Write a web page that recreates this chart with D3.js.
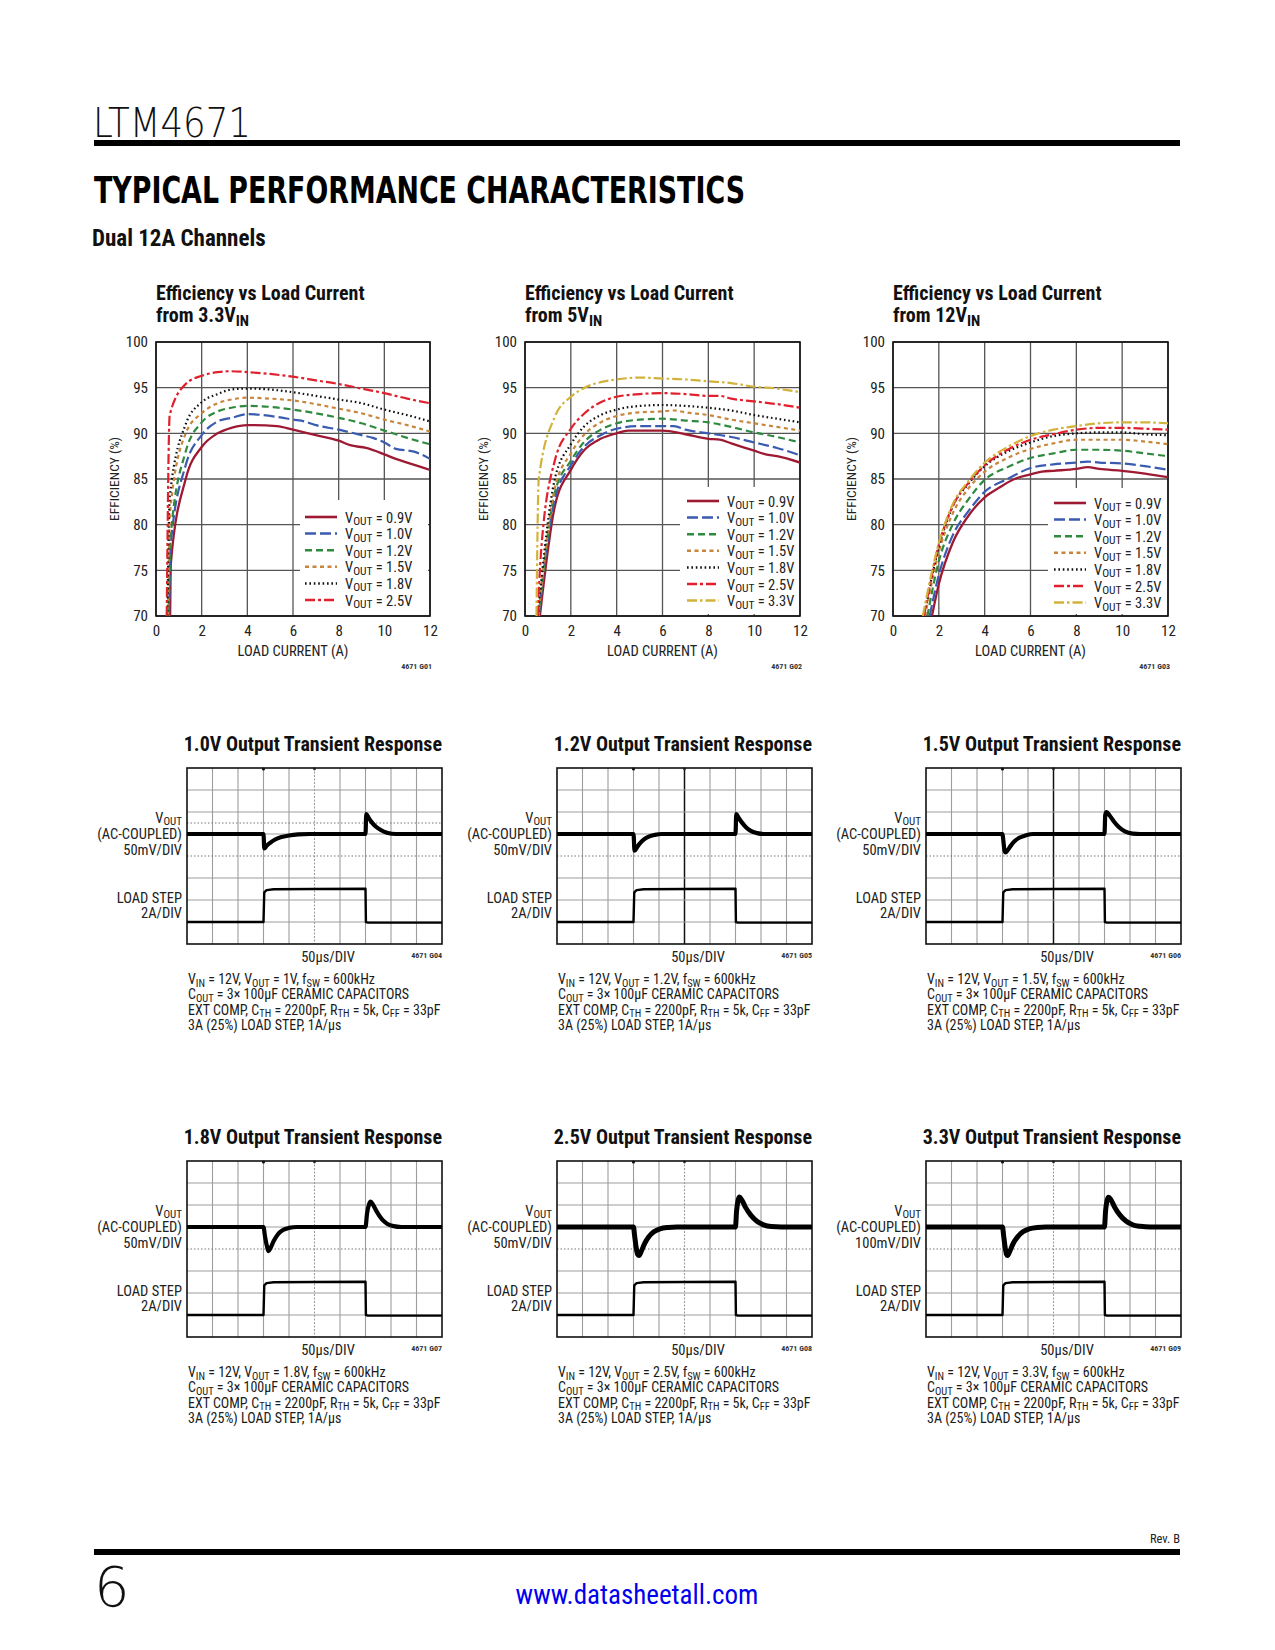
<!DOCTYPE html>
<html><head><meta charset="utf-8">
<script src="https://cdn.jsdelivr.net/npm/d3@7/dist/d3.min.js"></script>
<style>
html,body{margin:0;padding:0;background:#fff;}
svg{display:block;}
</style></head>
<body>
<svg id="page" width="1275" height="1650"></svg>
<script>
// ---------------- DATA ----------------
const loadCurrentTicks = [0, 2, 4, 6, 8, 10, 12];
const efficiencyTicks = [70, 75, 80, 85, 90, 95, 100];
const voutNames = ["0.9V", "1.0V", "1.2V", "1.5V", "1.8V", "2.5V", "3.3V"];

// Efficiency vs load current from 3.3VIN  [A, %]
const eff33_09 = [[0.62,70],[0.65,75.8],[1.3,85],[2,88.5],[2.7,90],[3.3,90.6],[4,90.9],[5.3,90.8],[6,90.4],[7,89.8],[8,89.2],[8.5,88.7],[9.2,88.4],[10,87.7],[10.5,87.2],[11,86.8],[12,86.0]];
const eff33_10 = [[0.57,70],[0.65,78],[1.3,86.5],[2,89.8],[2.7,91.3],[3.3,91.7],[4,92.1],[5.3,91.8],[6,91.5],[6.5,91.3],[7,90.9],[8,90.4],[9,89.8],[9.5,89.5],[10,89.0],[10.5,88.3],[11.3,88.0],[12,87.2]];
const eff33_12 = [[0.55,70],[0.65,79],[1.3,88],[2,91.2],[2.7,92.4],[3.3,92.8],[4,93.0],[5,92.9],[6,92.6],[7,92.2],[8,91.7],[9,91.1],[10,90.3],[11,89.5],[12,88.8]];
const eff33_15 = [[0.52,70],[0.62,81.5],[1.3,90],[2,92.2],[2.7,93.3],[3.3,93.7],[4,93.9],[5,93.8],[6,93.6],[7,93.2],[8,92.7],[9,92.2],[10,91.5],[11,90.9],[12,90.2]];
const eff33_18 = [[0.5,70],[0.6,83],[1.3,91],[2,93.4],[2.7,94.3],[3.3,94.8],[4,94.9],[5,94.8],[6,94.5],[7,94.1],[8,93.7],[9,93.3],[10,92.6],[11,92.0],[12,91.3]];
const eff33_25 = [[0.47,70],[0.6,92],[1.3,95.4],[2,96.3],[2.7,96.7],[3.3,96.8],[4,96.7],[5,96.5],[6,96.2],[7,95.8],[8,95.4],[9,94.9],[10,94.4],[11,93.8],[12,93.3]];

// Efficiency vs load current from 5VIN
const eff5_09 = [[0.65,70],[1.3,82],[2,86],[2.6,88.2],[3.3,89.4],[4,90.0],[4.5,90.3],[6,90.3],[7,89.9],[8,89.4],[8.5,89.3],[9,88.9],[10,88.1],[10.5,87.7],[11,87.5],[12,86.8]];
const eff5_10 = [[0.6,70],[1.3,82.8],[2,86.5],[2.6,88.6],[3.3,89.8],[4,90.5],[5,90.8],[6,90.8],[6.5,90.8],[7,90.4],[8,90.0],[9,89.6],[10,89.0],[11,88.4],[12,87.6]];
const eff5_12 = [[0.6,70],[1.3,83.5],[2,87],[2.6,89.1],[3.3,90.4],[4,91.1],[5,91.5],[6,91.6],[7,91.4],[8,91.2],[9,90.7],[10,90.1],[11,89.6],[12,89.0]];
const eff5_15 = [[0.58,70],[1.3,84],[2,87.8],[2.6,89.9],[3.3,91.2],[4,91.9],[5,92.3],[6,92.4],[6.5,92.5],[7,92.3],[8,92.0],[9,91.5],[10,91.1],[11,90.7],[12,90.3]];
const eff5_18 = [[0.55,70],[1.3,85],[2,88.8],[2.6,90.8],[3.3,92.0],[4,92.6],[5,93.0],[6,93.1],[7,93.0],[8,92.8],[9,92.5],[10,92.0],[11,91.6],[12,91.2]];
const eff5_25 = [[0.55,70],[0.7,77],[1.3,87],[2,90.5],[2.6,92.2],[3.3,93.4],[4,94.0],[5,94.3],[6,94.4],[7,94.3],[8,94.1],[8.5,94.1],[9,93.8],[10,93.5],[11,93.2],[12,92.8]];
const eff5_33 = [[0.5,70],[0.6,85],[1.3,91.8],[2,94.0],[2.6,95.0],[3.3,95.6],[4,95.9],[5,96.1],[6,96.0],[7,95.9],[8,95.7],[9,95.5],[10,95.1],[11,94.9],[12,94.5]];

// Efficiency vs load current from 12VIN
const eff12_09 = [[1.7,70],[2,73.5],[2.6,78],[3.3,81],[4,83],[4.6,84],[5.3,85],[6,85.5],[6.5,85.8],[7,85.9],[8,86.1],[8.5,86.3],[9,86.1],[10,85.9],[11,85.6],[12,85.2]];
const eff12_10 = [[1.6,70],[2,74.5],[2.6,78.8],[3.3,81.5],[4,83.6],[5,85.0],[6,86.2],[7,86.6],[8,86.8],[8.5,86.9],[9,86.8],[10,86.7],[11,86.4],[12,86.0]];
const eff12_12 = [[1.5,70],[2,76],[2.6,80],[3.3,82.8],[4,84.9],[5,86.3],[6,87.3],[7,87.8],[8,88.2],[9,88.2],[10,88.1],[11,87.8],[12,87.5]];
const eff12_15 = [[1.4,70],[2,77],[2.6,81.2],[3.3,84],[4,85.8],[5,87.3],[6,88.3],[7,88.9],[8,89.3],[9,89.3],[10,89.3],[11,89.1],[12,88.8]];
const eff12_18 = [[1.35,70],[2,77.5],[2.6,82],[3.3,84.5],[4,86.4],[5,88.0],[6,89.0],[7,89.7],[8,90.0],[9,90.1],[10,90.1],[11,89.9],[12,89.8]];
const eff12_25 = [[1.35,70],[2,77.8],[2.6,82],[3.3,84.6],[4,86.5],[5,88.2],[6,89.3],[7,89.9],[8,90.4],[9,90.6],[10,90.6],[11,90.5],[12,90.4]];
const eff12_33 = [[1.3,70],[2,78],[2.6,82.2],[3.3,84.8],[4,86.8],[5,88.5],[6,89.7],[7,90.4],[8,90.8],[9,91.1],[10,91.2],[11,91.2],[12,91.1]];

// Transient responses: time [us], VOUT deviation [mV]
const timeTicksUs = [0,50,100,150,200,250,300,350,400,450,500];
const loadStepA = [[0,0],[150,0],[151.5,2.7],[156,2.9],[170,2.98],[250,3.0],[350,3.02],[350.8,0],[355,-0.06],[500,-0.06]];
const vout1v0 = [[0,0],[150,0],[151.5,-33],[156,-27],[163,-20],[172,-13],[185,-7],[200,-3.5],[218,-1],[240,0],[350,0],[351.5,45],[356,37],[362,27],[370,17],[380,9],[392,3],[410,0],[500,0]];
const vout1v2 = [[0,0],[150,0],[152,-38],[157,-30],[163,-21],[170,-13],[180,-6],[192,-2],[205,0],[350,0],[351.5,45],[356,37],[362,27],[370,16],[380,7],[392,2],[405,0],[500,0]];
const vout1v5 = [[0,0],[150,0],[151,-8],[154,-38],[156,-42],[160,-37],[166,-27],[174,-16],[184,-8],[196,-3],[210,0],[350,0],[351.5,44],[354,50],[360,42],[368,29],[378,16],[390,6],[405,1],[420,0],[500,0]];
const vout1v8 = [[0,0],[150,0],[153,-22],[157,-45],[160,-55],[164,-47],[170,-32],[178,-17],[188,-7],[200,-2],[215,0],[350,0],[353,30],[357,52],[360,58],[365,50],[372,35],[382,18],[393,7],[405,2],[420,0],[500,0]];
const vout2v5 = [[0,0],[150,0],[152,-18],[155,-45],[158,-62],[161,-65],[165,-56],[172,-37],[180,-22],[190,-11],[202,-4],[218,-1],[235,0],[350,0],[352,35],[355,60],[358,68],[363,60],[370,44],[380,27],[392,13],[405,5],[420,1],[440,0],[500,0]];
const vout3v3 = [[0,0],[150,0],[152,-35],[155,-90],[158,-125],[160,-130],[164,-112],[171,-75],[180,-44],[190,-22],[202,-9],[218,-2],[235,0],[350,0],[352,70],[355,120],[358,135],[363,122],[370,90],[380,55],[392,27],[405,10],[420,3],[440,0],[500,0]];

// ---------------- STYLE ----------------
const NARROW = "'Liberation Sans Narrow','Arial Narrow','Roboto Condensed','DejaVu Sans Condensed',sans-serif";
const seriesStyle = {
  "0.9V": {color:"#9e1a33", dash:null, w:2.3},
  "1.0V": {color:"#3a5bb0", dash:"11,4", w:2.2},
  "1.2V": {color:"#2f8a40", dash:"7,4", w:2.2},
  "1.5V": {color:"#c7853d", dash:"4,3.5", w:2.2},
  "1.8V": {color:"#111111", dash:"1.6,2.8", w:2.2},
  "2.5V": {color:"#e0202c", dash:"10,3,3,3", w:2.2},
  "3.3V": {color:"#d2b23a", dash:"10,3,2.5,3", w:2.2}
};

const svg = d3.select("#page");
svg.append("rect").attr("width",1275).attr("height",1650).attr("fill","#fff");

// rich text with {sub} subscripts
function rich(sel, str, size, subSize, shift) {
  const parts = str.split(/(\{[^}]*\})/).filter(s => s.length);
  let inSub = false;
  parts.forEach(p => {
    if (p.startsWith("{")) {
      sel.append("tspan").attr("font-size", subSize).attr("dy", shift).text(p.slice(1,-1));
      inSub = true;
    } else {
      const t = sel.append("tspan").attr("font-size", size).text(p);
      if (inSub) { t.attr("dy", -shift); inSub = false; }
    }
  });
  return sel;
}

// ---------------- HEADER ----------------
svg.append("text").attr("x",93).attr("y",137)
  .attr("font-family","'DejaVu Sans',sans-serif").attr("font-weight",200)
  .attr("font-size",41).attr("textLength",158).attr("lengthAdjust","spacingAndGlyphs")
  .attr("fill","#111").text("LTM4671");
svg.append("rect").attr("x",94).attr("y",140).attr("width",1086).attr("height",6).attr("fill","#000");
svg.append("text").attr("x",94).attr("y",203)
  .attr("font-family","'DejaVu Sans Condensed','DejaVu Sans',sans-serif").attr("font-weight",900)
  .attr("font-size",38).attr("textLength",651).attr("lengthAdjust","spacingAndGlyphs")
  .attr("fill","#000").text("TYPICAL PERFORMANCE CHARACTERISTICS");
svg.append("text").attr("x",92).attr("y",246)
  .attr("font-family",NARROW).attr("font-weight",700).attr("font-size",23)
  .attr("fill","#111").text("Dual 12A Channels");

// ---------------- EFFICIENCY CHARTS ----------------
const effCharts = [
  {left:156, right:430, vin:"3.3V", fig:"4671 G01", legendBox:[300,500,128,115], legendY:517, legendX:305,
   series:[["0.9V",eff33_09],["1.0V",eff33_10],["1.2V",eff33_12],["1.5V",eff33_15],["1.8V",eff33_18],["2.5V",eff33_25]]},
  {left:525, right:800, vin:"5V", fig:"4671 G02", legendBox:[680,487,119,127], legendY:501, legendX:687,
   series:[["0.9V",eff5_09],["1.0V",eff5_10],["1.2V",eff5_12],["1.5V",eff5_15],["1.8V",eff5_18],["2.5V",eff5_25],["3.3V",eff5_33]]},
  {left:893, right:1168, vin:"12V", fig:"4671 G03", legendBox:[1048,488,119,126], legendY:503, legendX:1054,
   series:[["0.9V",eff12_09],["1.0V",eff12_10],["1.2V",eff12_12],["1.5V",eff12_15],["1.8V",eff12_18],["2.5V",eff12_25],["3.3V",eff12_33]]}
];
const effTop = 342, effBottom = 616;

effCharts.forEach((c, ci) => {
  const g = svg.append("g");
  const x = d3.scaleLinear().domain([0,12]).range([c.left, c.right]);
  const y = d3.scaleLinear().domain([70,100]).range([effBottom, effTop]);
  // title
  g.append("text").attr("x",c.left).attr("y",300).attr("font-family",NARROW).attr("font-weight",700)
    .attr("font-size",20).attr("fill","#111").text("Efficiency vs Load Current");
  rich(g.append("text").attr("x",c.left).attr("y",322).attr("font-family",NARROW).attr("font-weight",700).attr("fill","#111"),
    "from " + c.vin + "{IN}", 20, 15, 3.5);
  // grid
  g.append("g").selectAll("line.v").data(loadCurrentTicks).join("line")
    .attr("x1",d=>x(d)).attr("x2",d=>x(d)).attr("y1",effTop).attr("y2",effBottom)
    .attr("stroke","#555").attr("stroke-width",1.3);
  g.append("g").selectAll("line.h").data(efficiencyTicks).join("line")
    .attr("x1",c.left).attr("x2",c.right).attr("y1",d=>y(d)).attr("y2",d=>y(d))
    .attr("stroke","#555").attr("stroke-width",1.3);
  // legend background hides grid
  const lb = c.legendBox;
  g.append("rect").attr("x",lb[0]).attr("y",lb[1]).attr("width",lb[2]).attr("height",lb[3]).attr("fill","#fff");
  // frame
  g.append("rect").attr("x",c.left).attr("y",effTop).attr("width",c.right-c.left).attr("height",effBottom-effTop)
    .attr("fill","none").attr("stroke","#111").attr("stroke-width",1.6);
  // axes labels
  const ax = g.append("g").attr("transform",`translate(0,${effBottom})`)
    .call(d3.axisBottom(x).tickValues(loadCurrentTicks).tickSize(0).tickPadding(9).tickFormat(d3.format("d")));
  ax.select(".domain").remove();
  ax.selectAll("text").attr("font-family",NARROW).attr("font-size",15).attr("fill","#222");
  const ay = g.append("g").attr("transform",`translate(${c.left},0)`)
    .call(d3.axisLeft(y).tickValues(efficiencyTicks).tickSize(0).tickPadding(8).tickFormat(d3.format("d")));
  ay.select(".domain").remove();
  ay.selectAll("text").attr("font-family",NARROW).attr("font-size",15).attr("fill","#222");
  g.append("text").attr("x",(c.left+c.right)/2).attr("y",656).attr("text-anchor","middle")
    .attr("font-family",NARROW).attr("font-size",14.5).attr("fill","#222").text("LOAD CURRENT (A)");
  g.append("text").attr("transform",`translate(${c.left-37},${(effTop+effBottom)/2}) rotate(-90)`)
    .attr("text-anchor","middle").attr("font-family",NARROW).attr("font-size",13.5).attr("fill","#222").text("EFFICIENCY (%)");
  g.append("text").attr("x",c.right+2).attr("y",669).attr("text-anchor","end")
    .attr("font-family",NARROW).attr("font-weight",700).attr("font-size",8).attr("fill","#333").text(c.fig);
  // curves
  const clipId = "clipEff"+ci;
  g.append("clipPath").attr("id",clipId).append("rect").attr("x",c.left).attr("y",effTop).attr("width",c.right-c.left).attr("height",effBottom-effTop);
  const line = d3.line().x(d=>x(d[0])).y(d=>y(d[1])).curve(d3.curveMonotoneX);
  const cg = g.append("g").attr("clip-path",`url(#${clipId})`);
  c.series.forEach(([name, data]) => {
    const s = seriesStyle[name];
    cg.append("path").datum(data).attr("d",line).attr("fill","none")
      .attr("stroke",s.color).attr("stroke-width",s.w).attr("stroke-dasharray",s.dash);
  });
  // legend
  c.series.forEach(([name], i) => {
    const s = seriesStyle[name];
    const yy = c.legendY + i*16.6;
    g.append("line").attr("x1",c.legendX).attr("x2",c.legendX+32).attr("y1",yy).attr("y2",yy)
      .attr("stroke",s.color).attr("stroke-width",s.w+0.3).attr("stroke-dasharray",s.dash);
    rich(g.append("text").attr("x",c.legendX+40).attr("y",yy+5.5).attr("font-family",NARROW).attr("fill","#222"),
      "V{OUT} = " + name, 14.5, 11.5, 2.5);
  });
});

// ---------------- TRANSIENT CHARTS ----------------
const scopeCharts = [
  {left:187, top:768, vout:"1.0V", voutNote:"1V", scale:"50mV/DIV", mvPerDiv:50, trace:vout1v0, fig:"4671 G04", darkCenter:false, cursor:2.5},
  {left:557, top:768, vout:"1.2V", voutNote:"1.2V", scale:"50mV/DIV", mvPerDiv:50, trace:vout1v2, fig:"4671 G05", darkCenter:true, cursor:null},
  {left:926, top:768, vout:"1.5V", voutNote:"1.5V", scale:"50mV/DIV", mvPerDiv:50, trace:vout1v5, fig:"4671 G06", darkCenter:true, cursor:null},
  {left:187, top:1161, vout:"1.8V", voutNote:"1.8V", scale:"50mV/DIV", mvPerDiv:50, trace:vout1v8, fig:"4671 G07", darkCenter:false, cursor:null},
  {left:557, top:1161, vout:"2.5V", voutNote:"2.5V", scale:"50mV/DIV", mvPerDiv:50, trace:vout2v5, fig:"4671 G08", darkCenter:false, cursor:null},
  {left:926, top:1161, vout:"3.3V", voutNote:"3.3V", scale:"100mV/DIV", mvPerDiv:100, trace:vout3v3, fig:"4671 G09", darkCenter:false, cursor:null}
];
const scopeW = 255, scopeH = 176;
const voutBaselineDiv = 3, loadBaselineDiv = 7, ampsPerDiv = 2;

scopeCharts.forEach((c, ci) => {
  const g = svg.append("g");
  const x = d3.scaleLinear().domain([0,500]).range([c.left, c.left+scopeW]);
  const div = d3.scaleLinear().domain([0,8]).range([c.top, c.top+scopeH]);
  const yV = d3.scaleLinear().domain([0, c.mvPerDiv]).range([div(voutBaselineDiv), div(voutBaselineDiv-1)]);
  const yI = d3.scaleLinear().domain([0, ampsPerDiv]).range([div(loadBaselineDiv), div(loadBaselineDiv-1)]);
  const right = c.left+scopeW, bottom = c.top+scopeH;
  // title
  g.append("text").attr("x",right).attr("y",c.top-17).attr("text-anchor","end")
    .attr("font-family",NARROW).attr("font-weight",700).attr("font-size",20).attr("fill","#111")
    .text(c.vout + " Output Transient Response");
  // grid
  g.append("g").selectAll("line").data(timeTicksUs.slice(1,-1)).join("line")
    .attr("x1",d=>x(d)).attr("x2",d=>x(d)).attr("y1",c.top).attr("y2",bottom)
    .attr("stroke", d => (d===250 && c.darkCenter) ? "#111" : "#9d9d9d")
    .attr("stroke-width", d => (d===250 && c.darkCenter) ? 1.5 : 1.1)
    .attr("stroke-dasharray", d => (d===250 && !c.darkCenter) ? "2,1.5" : null);
  g.append("g").selectAll("line").data(d3.range(1,8)).join("line")
    .attr("x1",c.left).attr("x2",right).attr("y1",d=>div(d)).attr("y2",d=>div(d))
    .attr("stroke", d => d===4 ? "#777" : "#9d9d9d").attr("stroke-width",1.1)
    .attr("stroke-dasharray", d => d===4 ? "1.5,2" : null);
  if (c.cursor !== null) {
    g.append("line").attr("x1",c.left).attr("x2",right).attr("y1",div(c.cursor)).attr("y2",div(c.cursor))
      .attr("stroke","#777").attr("stroke-width",1).attr("stroke-dasharray","1.5,2");
  }
  // trigger markers
  g.append("circle").attr("cx",x(150)).attr("cy",c.top+1).attr("r",1.6).attr("fill","#111");
  g.append("circle").attr("cx",x(250)).attr("cy",c.top+1).attr("r",1.4).attr("fill","#333");
  // frame
  g.append("rect").attr("x",c.left).attr("y",c.top).attr("width",scopeW).attr("height",scopeH)
    .attr("fill","none").attr("stroke","#111").attr("stroke-width",1.6);
  // traces
  const clipId = "clipScope"+ci;
  g.append("clipPath").attr("id",clipId).append("rect").attr("x",c.left).attr("y",c.top).attr("width",scopeW).attr("height",scopeH);
  const tg = g.append("g").attr("clip-path",`url(#${clipId})`);
  tg.append("path").datum(loadStepA).attr("d", d3.line().x(d=>x(d[0])).y(d=>yI(d[1])))
    .attr("fill","none").attr("stroke","#000").attr("stroke-width",2.4).attr("stroke-linejoin","round");
  tg.append("path").datum(c.trace).attr("d", d3.line().x(d=>x(d[0])).y(d=>yV(d[1])).curve(d3.curveMonotoneX))
    .attr("fill","none").attr("stroke","#000").attr("stroke-width", c.mvPerDiv===100 || c.vout==="2.5V" ? 5 : 4.2)
    .attr("stroke-linejoin","round");
  // side labels
  const lx = c.left-5;
  rich(g.append("text").attr("x",lx).attr("y",c.top+54.5).attr("text-anchor","end").attr("font-family",NARROW).attr("fill","#222"),
    "V{OUT}", 14.5, 11, 2.5);
  const side = [["(AC-COUPLED)",71],[c.scale,87],["LOAD STEP",135],["2A/DIV",150]];
  side.forEach(([t,dy]) => g.append("text").attr("x",lx).attr("y",c.top+dy).attr("text-anchor","end")
    .attr("font-family",NARROW).attr("font-size",14.5).attr("fill","#222").text(t));
  // time scale
  g.append("text").attr("x",c.left+141).attr("y",c.top+194).attr("text-anchor","middle")
    .attr("font-family",NARROW).attr("font-size",14.5).attr("fill","#222").text("50\u00b5s/DIV");
  g.append("text").attr("x",right).attr("y",c.top+190).attr("text-anchor","end")
    .attr("font-family",NARROW).attr("font-weight",700).attr("font-size",8).attr("fill","#333").text(c.fig);
  // notes
  const notes = [
    "V{IN} = 12V, V{OUT} = " + c.voutNote + ", f{SW} = 600kHz",
    "C{OUT} = 3\u00d7 100\u00b5F CERAMIC CAPACITORS",
    "EXT COMP, C{TH} = 2200pF, R{TH} = 5k, C{FF} = 33pF",
    "3A (25%) LOAD STEP, 1A/\u00b5s"
  ];
  notes.forEach((n,i) => rich(g.append("text").attr("x",c.left+1).attr("y",c.top+216+i*15.4)
    .attr("font-family",NARROW).attr("fill","#1a1a1a"), n, 14, 10.5, 2.5));
});

// ---------------- FOOTER ----------------
svg.append("text").attr("x",1180).attr("y",1543).attr("text-anchor","end")
  .attr("font-family",NARROW).attr("font-size",12.5).attr("fill","#222").text("Rev. B");
svg.append("rect").attr("x",94).attr("y",1549).attr("width",1086).attr("height",6).attr("fill","#000");
svg.append("text").attr("x",94).attr("y",1606)
  .attr("font-family","'DejaVu Sans',sans-serif").attr("font-weight",200).attr("font-size",56)
  .attr("fill","#111").text("6");
svg.append("text").attr("x",637).attr("y",1604).attr("text-anchor","middle")
  .attr("font-family",NARROW).attr("font-size",27).attr("fill","#0000ee").text("www.datasheetall.com");
</script>
</body></html>
